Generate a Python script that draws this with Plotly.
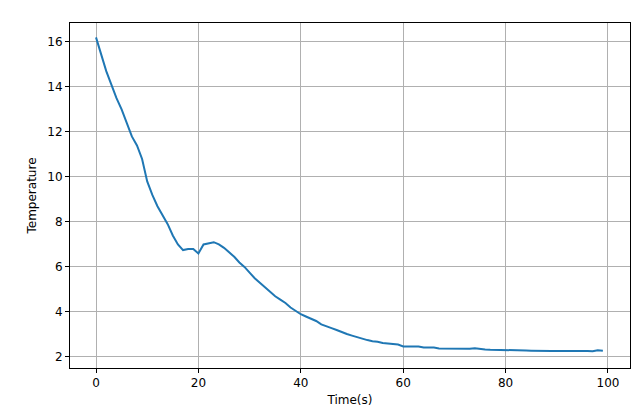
import plotly.graph_objects as go

time_s = list(range(100))
temperature = [16.2,15.4,14.7,14.1,13.5,13.0,12.4,11.8,11.4,10.8,
9.8,9.2,8.7,8.3,7.9,7.4,7.0,6.75,6.8,6.8,
6.6,7.0,7.05,7.1,7.0,6.85,6.65,6.45,6.2,6.0,
5.75,5.5,5.3,5.1,4.9,4.7,4.55,4.4,4.2,4.05,
3.9,3.8,3.7,3.6,3.45,3.38,3.28,3.2,3.1,3.02,
2.95,2.88,2.8,2.75,2.7,2.68,2.62,2.6,2.55,2.55,
2.47,2.46,2.45,2.47,2.42,2.43,2.42,2.38,2.38,2.36,
2.38,2.35,2.36,2.37,2.39,2.35,2.33,2.32,2.32,2.32,
2.31,2.32,2.29,2.3,2.29,2.28,2.27,2.28,2.28,2.26,
2.27,2.27,2.28,2.27,2.3,2.28,2.27,2.25,2.3,2.28]

fig = go.Figure(go.Scatter(x=time_s, y=temperature, mode="lines",
                           line=dict(color="#1f77b4", width=2)))
ax = dict(showline=True, linecolor="black", mirror=True, ticks="outside",
          ticklen=4, tickcolor="black", showgrid=True, gridcolor="#b0b0b0",
          zeroline=False, automargin=False, tickfont=dict(size=12, color="black"))
fig.update_xaxes(range=[-5.08, 104.3], tickvals=[0,20,40,60,80,100],
                 title=dict(text="Time(s)", font=dict(size=12, color="black"), standoff=6), **ax)
fig.update_yaxes(range=[1.51, 16.84], tickvals=[2,4,6,8,10,12,14,16],
                 title=dict(text="Temperature", font=dict(size=12, color="black"), standoff=8), **ax)
fig.update_layout(width=640, height=409, plot_bgcolor="white", paper_bgcolor="white",
                  margin=dict(l=62, r=18, t=15, b=49, pad=0), showlegend=False,
                  font=dict(family="DejaVu Sans"))
fig.write_html("out.html")
